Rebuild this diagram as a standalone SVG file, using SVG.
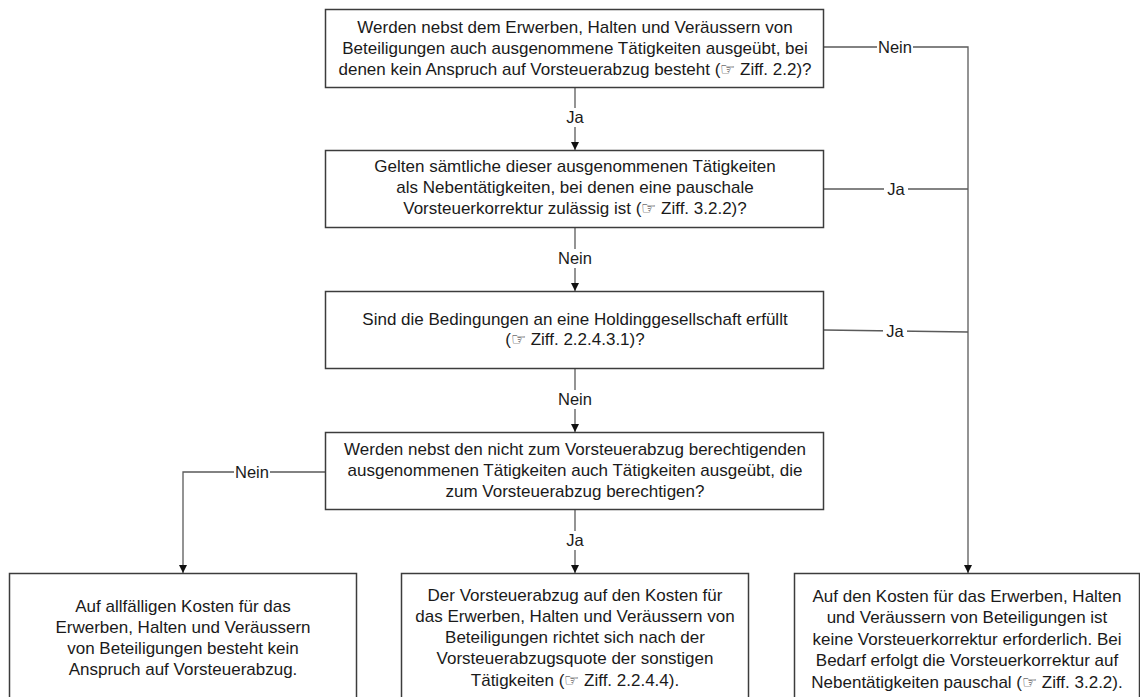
<svg xmlns="http://www.w3.org/2000/svg" width="1140" height="697" viewBox="0 0 1140 697">
<style>
.box{fill:#fff;stroke:#3c3c3c;stroke-width:1.5}
.t{font-family:"Liberation Sans",Arial,sans-serif;font-size:17px;fill:#1a1a1a;text-anchor:middle}
.c{fill:none;stroke:#5a5a5a;stroke-width:1.3}
.lb{font-family:"Liberation Sans",Arial,sans-serif;font-size:16.5px;fill:#1a1a1a;text-anchor:middle}
.bg{fill:#fff}
</style>
<defs>
<marker id="ah" viewBox="0 0 10 10" refX="10" refY="5" markerWidth="8" markerHeight="9" markerUnits="userSpaceOnUse" orient="auto">
<path d="M0,0 L10,5 L0,10 Z" fill="#111"/>
</marker>
</defs>
<rect width="1140" height="697" fill="#fff"/>
<g id="connectors">
<path class="c" d="M575,87 V150" marker-end="url(#ah)"/>
<path class="c" d="M575,228 V291" marker-end="url(#ah)"/>
<path class="c" d="M575,368 V432" marker-end="url(#ah)"/>
<path class="c" d="M575,510 V573" marker-end="url(#ah)"/>
<path class="c" d="M824,47 H968 V573" marker-end="url(#ah)"/>
<path class="c" d="M824,189 H968"/>
<path class="c" d="M824,330 L968,332"/>
<path class="c" d="M325,472 H183 V573" marker-end="url(#ah)"/>
<rect class="bg" x="563" y="108" width="24" height="19"/>
<text class="lb" x="575" y="123">Ja</text>
<rect class="bg" x="557" y="249" width="36" height="19"/>
<text class="lb" x="575" y="264">Nein</text>
<rect class="bg" x="557" y="390" width="36" height="19"/>
<text class="lb" x="575" y="405">Nein</text>
<rect class="bg" x="563" y="531" width="24" height="19"/>
<text class="lb" x="575" y="546">Ja</text>
<rect class="bg" x="877" y="38" width="36" height="19"/>
<text class="lb" x="895" y="53">Nein</text>
<rect class="bg" x="884" y="180" width="24" height="19"/>
<text class="lb" x="896" y="195">Ja</text>
<rect class="bg" x="883" y="322" width="24" height="19"/>
<text class="lb" x="895" y="337">Ja</text>
<rect class="bg" x="234" y="463" width="36" height="19"/>
<text class="lb" x="252" y="478">Nein</text>
</g>
<g id="q1">
<rect class="box" x="325.5" y="9.5" width="498" height="78"/>
<text class="t" x="575" y="33">Werden nebst dem Erwerben, Halten und Veräussern von</text>
<text class="t" x="575" y="54">Beteiligungen auch ausgenommene Tätigkeiten ausgeübt, bei</text>
<text class="t" x="575" y="75">denen kein Anspruch auf Vorsteuerabzug besteht (☞ Ziff. 2.2)?</text>
</g>
<g id="q2">
<rect class="box" x="325.5" y="150.5" width="498" height="77"/>
<text class="t" x="575" y="172">Gelten sämtliche dieser ausgenommenen Tätigkeiten</text>
<text class="t" x="575" y="193">als Nebentätigkeiten, bei denen eine pauschale</text>
<text class="t" x="575" y="214">Vorsteuerkorrektur zulässig ist (☞ Ziff. 3.2.2)?</text>
</g>
<g id="q3">
<rect class="box" x="325.5" y="291.5" width="498" height="77"/>
<text class="t" x="575" y="325">Sind die Bedingungen an eine Holdinggesellschaft erfüllt</text>
<text class="t" x="575" y="345">(☞ Ziff. 2.2.4.3.1)?</text>
</g>
<g id="q4">
<rect class="box" x="325.5" y="432.5" width="498" height="77"/>
<text class="t" x="575" y="455">Werden nebst den nicht zum Vorsteuerabzug berechtigenden</text>
<text class="t" x="575" y="476">ausgenommenen Tätigkeiten auch Tätigkeiten ausgeübt, die</text>
<text class="t" x="575" y="497">zum Vorsteuerabzug berechtigen?</text>
</g>
<g id="r1">
<rect class="box" x="9.5" y="573.5" width="347" height="130"/>
<text class="t" x="183" y="612">Auf allfälligen Kosten für das</text>
<text class="t" x="183" y="633">Erwerben, Halten und Veräussern</text>
<text class="t" x="183" y="654">von Beteiligungen besteht kein</text>
<text class="t" x="183" y="675">Anspruch auf Vorsteuerabzug.</text>
</g>
<g id="r2">
<rect class="box" x="401.5" y="573.5" width="347" height="130"/>
<text class="t" x="575" y="601">Der Vorsteuerabzug auf den Kosten für</text>
<text class="t" x="575" y="622">das Erwerben, Halten und Veräussern von</text>
<text class="t" x="575" y="643">Beteiligungen richtet sich nach der</text>
<text class="t" x="575" y="664">Vorsteuerabzugsquote der sonstigen</text>
<text class="t" x="575" y="686">Tätigkeiten (☞ Ziff. 2.2.4.4).</text>
</g>
<g id="r3">
<rect class="box" x="794.5" y="573.5" width="345" height="130"/>
<text class="t" x="967" y="602">Auf den Kosten für das Erwerben, Halten</text>
<text class="t" x="967" y="623">und Veräussern von Beteiligungen ist</text>
<text class="t" x="967" y="645">keine Vorsteuerkorrektur erforderlich. Bei</text>
<text class="t" x="967" y="666">Bedarf erfolgt die Vorsteuerkorrektur auf</text>
<text class="t" x="967" y="688">Nebentätigkeiten pauschal (☞ Ziff. 3.2.2).</text>
</g>
</svg>
